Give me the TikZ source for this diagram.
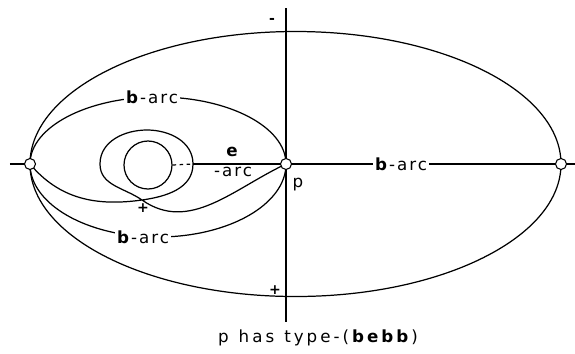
\documentclass[tikz,border=0pt]{standalone}
\usepackage{fontspec}
\setmainfont{DejaVu Sans}[LetterSpace=12]
\usetikzlibrary{positioning}
\tikzset{
  arcline/.style={line width=0.7pt},
  vertex/.style={circle, draw, line width=0.6pt, fill=white, minimum size=0.22cm, inner sep=0pt},
  arclabel/.style={fill=white, inner sep=1pt, font=\fontsize{9.5}{11}\selectfont},
  plainlabel/.style={inner sep=1pt, font=\fontsize{9.5}{11}\selectfont},
  signlabel/.style={inner sep=0pt, font=\fontsize{8}{9}\selectfont\bfseries}
}

\begin{document}
\begin{tikzpicture}[arcline]
  \useasboundingbox (-5.72,-3.78) rectangle (5.78,3.28);
  % points on the axis
  \coordinate (L) at (-5.12,0);
  \coordinate (P) at (0,0);
  \coordinate (R) at (5.5,0);
  \coordinate (hleft) at (-5.52,0);
  \coordinate (hright) at (5.78,0);
  \coordinate (vtop) at (0,3.12);
  \coordinate (vbot) at (0,-3.16);
  \coordinate (oc) at (0.19,0);
  \coordinate (X) at (-2.88,-0.72);
  \coordinate (loopr) at (-1.86,0);
  \coordinate (loopt) at (-2.78,0.68);
  \coordinate (loopl) at (-3.72,0);

  % axes
  \draw (hleft) -- (L);
  \draw (loopr) -- (P) -- (R) -- (hright);
  \draw (vtop) -- (vbot);

  % outer ellipse
  \draw (oc) ellipse [x radius=5.31, y radius=2.65];

  % b-arcs between L and p
  \draw (L) arc[start angle=180, end angle=0, x radius=2.56, y radius=1.34];
  \draw (L) arc[start angle=180, end angle=360, x radius=2.56, y radius=1.46];

  % e-loop
  \draw (L) to[out=-50,in=188] (X) to[out=8,in=-90] (loopr)
        to[out=90,in=0] (loopt) to[out=180,in=90] (loopl)
        to[out=-90,in=145] (X) to[out=-35,in=205] (P);

  \node[circle, draw, line width=0.7pt, minimum size=0.96cm, inner sep=0pt] (disc) at (-2.76,-0.02) {};
  \draw[dash pattern=on 2pt off 2pt] (disc.east) -- (loopr);

  % labels
  \node[arclabel] (topb) at (-2.68,1.34) {\textbf{b}-arc};
  \node[arclabel] (botb) at (-2.86,-1.46) {\textbf{b}-arc};
  \node[arclabel] (rightb) at (2.3,0) {\textbf{b}-arc};
  \node[plainlabel] (elbl) at (-1.06,0.24) {\textbf{e}};
  \node[plainlabel] (arclbl) at (-1.06,-0.16) {-arc};
  \node[plainlabel] (plbl) at (0.24,-0.42) {p};
  \node[signlabel] (minus) at (-0.28,2.86) {-};
  \node[signlabel] (plustop) at (-0.22,-2.52) {+};
  \node[signlabel] (plusx) at (-2.86,-0.88) {+};
  \node[plainlabel, font=\fontsize{9.5}{11}\selectfont\addfontfeature{LetterSpace=18}] (caption) at (0.64,-3.48) {\spaceskip=0.6em p has type-(\textbf{bebb})};

  % vertices
  \node[vertex] (lnode) at (L) {};
  \node[vertex] (pnode) at (P) {};
  \node[vertex] (rnode) at (R) {};
\end{tikzpicture}
\end{document}
